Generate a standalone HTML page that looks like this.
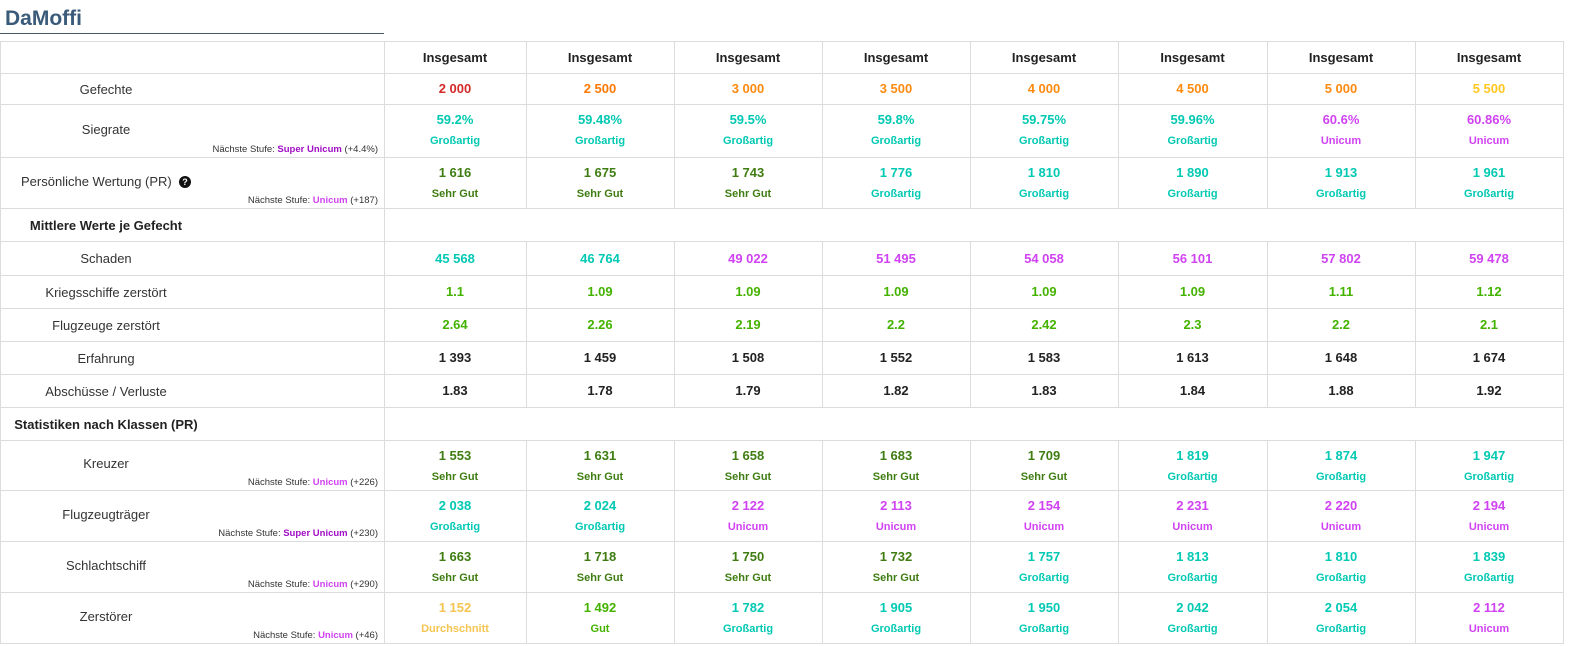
<!DOCTYPE html>
<html><head><meta charset="utf-8"><style>
body{margin:0;width:1572px;height:646px;background:#fff;font-family:"Liberation Sans",Arial,sans-serif;position:relative;overflow:hidden}
.a{position:absolute}
.hl{position:absolute;height:1px;background:#dcdcdc}
.vl{position:absolute;width:1px;background:#dcdcdc}
.lbl{position:absolute;left:0;width:212px;text-align:center;font-size:13px;color:#333}
.sec{font-weight:bold;color:#222}
.note{position:absolute;right:1194px;font-size:9.5px;color:#333;white-space:nowrap}
.cell{position:absolute;text-align:center;font-weight:bold}
.v{font-size:13px}
.s{font-size:11px;margin-top:7px}
</style></head><body>
<div class="a" style="left:5px;top:7px;font-size:21px;font-weight:bold;color:#3b5b7a">DaMoffi</div>
<div class="a" style="left:0;top:33px;width:384px;height:1px;background:#4a5a6a"></div>
<div id="t"></div>
<script>
const battles=[2000,2500,3000,3500,4000,4500,5000,5500];
const battleColors=["#d42a2a","#fe7903","#fe8a10","#fe8a10","#fe8a10","#fe8a10","#fe8a10","#ffc71f"];
const winrate=["59.2%","59.48%","59.5%","59.8%","59.75%","59.96%","60.6%","60.86%"];
const winrateRating=["G","G","G","G","G","G","U","U"];
const pr=[1616,1675,1743,1776,1810,1890,1913,1961];
const prRating=["SG","SG","SG","G","G","G","G","G"];
const damage=[45568,46764,49022,51495,54058,56101,57802,59478];
const damageRating=["G","G","U","U","U","U","U","U"];
const frags=[1.1,1.09,1.09,1.09,1.09,1.09,1.11,1.12];
const planes=[2.64,2.26,2.19,2.2,2.42,2.3,2.2,2.1];
const xp=[1393,1459,1508,1552,1583,1613,1648,1674];
const kd=[1.83,1.78,1.79,1.82,1.83,1.84,1.88,1.92];
const cruiser=[1553,1631,1658,1683,1709,1819,1874,1947];
const cruiserRating=["SG","SG","SG","SG","SG","G","G","G"];
const carrier=[2038,2024,2122,2113,2154,2231,2220,2194];
const carrierRating=["G","G","U","U","U","U","U","U"];
const battleship=[1663,1718,1750,1732,1757,1813,1810,1839];
const battleshipRating=["SG","SG","SG","SG","G","G","G","G"];
const destroyer=[1152,1492,1782,1905,1950,2042,2054,2112];
const destroyerRating=["D","Gut","G","G","G","G","G","U"];

const R={SG:["Sehr Gut","#3f7d12"],G:["Großartig","#02c9b3"],U:["Unicum","#d042f3"],Gut:["Gut","#44b300"],D:["Durchschnitt","#f5c451"]};
const rowTops=[41,73,104,157,208,241,275,308,341,374,407,440,490,541,592,643];
const colX=[0,384,526,674,822,970,1118,1267,1415,1563];
const fmt=n=>String(n).replace(/\B(?=(\d{3})+(?!\d))/g,' ');
const T=document.getElementById('t');
function add(html,cls,style){const d=document.createElement('div');d.className=cls;d.style.cssText=style;d.innerHTML=html;T.appendChild(d);return d;}
for(let i=0;i<rowTops.length;i++){const l=add('','hl',`left:0;top:${rowTops[i]}px;width:1564px`);

}
const secRows=[4,10];
for(let c=0;c<colX.length;c++){
 for(let r=0;r<rowTops.length-1;r++){
  if(secRows.includes(r)&&c>1&&c<colX.length-1)continue;
  const l=add('','vl',`left:${colX[c]}px;top:${rowTops[r]}px;height:${rowTops[r+1]-rowTops[r]}px`);
  
  
 }
}
function label(r,text,note,sec){
 const top=rowTops[r],h=rowTops[r+1]-top;
 const two=!!note;
 const d=add(text,'lbl'+(sec?' sec':''),`top:${top}px;height:${h}px;line-height:${two?h-2:h+2}px`);
 
 
 if(note){const n=add(note,'note',`top:${top+h-13}px`);
  
  }
}
function cells(r,vals,colors,ratings){
 const top=rowTops[r],h=rowTops[r+1]-top;
 vals.forEach((v,i)=>{
  const x=colX[i+1],w=colX[i+2]-x;
  let html,col=colors?(Array.isArray(colors)?colors[i]:colors):(ratings?R[ratings[i]][1]:'#222');
  if(ratings){html=`<div class="v">${v}</div><div class="s">${R[ratings[i]][0]}</div>`;}
  else html=`<div class="v">${v}</div>`;
  const two=ratings&&h>45;
  const d=add(html,'cell',`left:${x}px;width:${w}px;top:${two?top+8:top+(h-15)/2}px;color:${col};line-height:15px`);
  
  
 });
}
for(let i=0;i<8;i++){const d=add('Insgesamt','cell',`left:${colX[i+1]}px;width:${colX[i+2]-colX[i+1]}px;top:50px;font-size:13px;color:#222`);

}
const sub='#a00dc5',uni='#d042f3';
label(1,'Gefechte');cells(1,battles.map(fmt),battleColors);
label(2,'Siegrate',`Nächste Stufe: <b style="color:${sub}">Super Unicum</b> (+4.4%)`);cells(2,winrate,null,winrateRating);
label(3,'Persönliche Wertung (PR) &nbsp;<span style="display:inline-block;width:12px;height:12px;border-radius:50%;background:#111;color:#fff;font-size:9px;line-height:12px;font-weight:bold;vertical-align:1px;text-align:center">?</span>',`Nächste Stufe: <b style="color:${uni}">Unicum</b> (+187)`);cells(3,pr.map(fmt),null,prRating);
label(4,'Mittlere Werte je Gefecht',null,true);
label(5,'Schaden');cells(5,damage.map(fmt),damageRating.map(k=>R[k][1]));
label(6,'Kriegsschiffe zerstört');cells(6,frags,'#44b300');
label(7,'Flugzeuge zerstört');cells(7,planes,'#44b300');
label(8,'Erfahrung');cells(8,xp.map(fmt),'#222');
label(9,'Abschüsse / Verluste');cells(9,kd,'#222');
label(10,'Statistiken nach Klassen (PR)',null,true);
label(11,'Kreuzer',`Nächste Stufe: <b style="color:${uni}">Unicum</b> (+226)`);cells(11,cruiser.map(fmt),null,cruiserRating);
label(12,'Flugzeugträger',`Nächste Stufe: <b style="color:${sub}">Super Unicum</b> (+230)`);cells(12,carrier.map(fmt),null,carrierRating);
label(13,'Schlachtschiff',`Nächste Stufe: <b style="color:${uni}">Unicum</b> (+290)`);cells(13,battleship.map(fmt),null,battleshipRating);
label(14,'Zerstörer',`Nächste Stufe: <b style="color:${uni}">Unicum</b> (+46)`);cells(14,destroyer.map(fmt),null,destroyerRating);
</script>
</body></html>
